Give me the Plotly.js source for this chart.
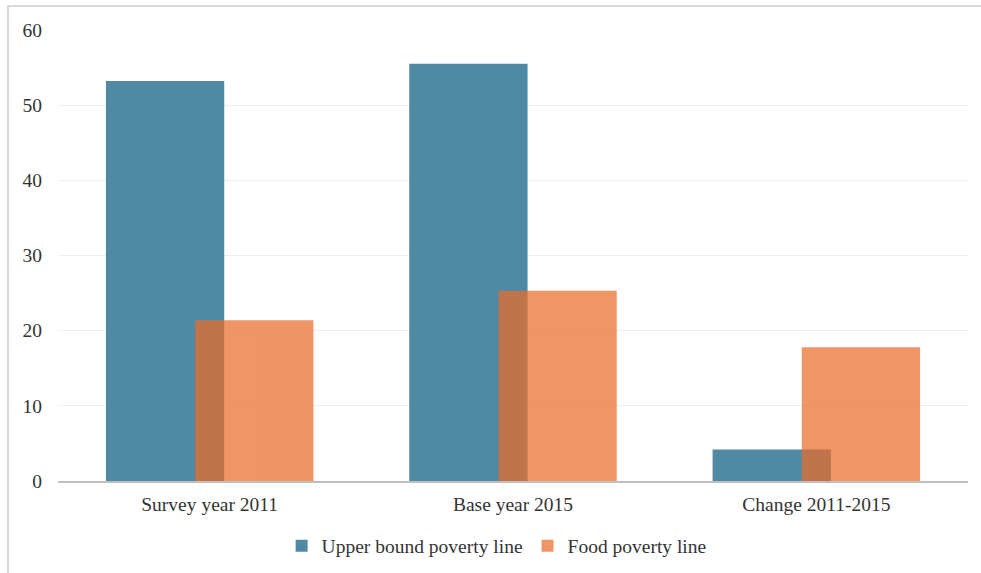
<!DOCTYPE html>
<html>
<head>
<meta charset="utf-8">
<script src="https://cdn.plot.ly/plotly-3.0.1.min.js"></script>
<style>
  html, body { margin: 0; padding: 0; background: #ffffff; overflow: hidden; }
  #chart { position: absolute; left: 0; top: 0; width: 981px; height: 573px; }
  #frame {
    position: absolute; left: 7px; top: 5px; width: 1000px; height: 600px;
    border: 2px solid #d9d9d9; pointer-events: none; box-sizing: border-box;
  }
</style>
</head>
<body>
<div id="chart"></div>
<div id="frame"></div>
<script>
// Poverty headcount under two poverty lines
const categories = ["Survey year 2011", "Base year 2015", "Change 2011-2015"];
const upperBound = [53.2, 55.5, 4.2];
const foodLine = [21.4, 25.3, 17.8];
const seriesNames = ["Upper bound poverty line", "Food poverty line"];
const yTicks = [0, 10, 20, 30, 40, 50, 60];

const font = { family: "Liberation Serif, Times New Roman, serif", size: 19.5, color: "#333333" };

const traces = [
  {
    type: "bar",
    name: seriesNames[0],
    x: categories,
    y: upperBound,
    width: 0.39,
    offset: -0.342,
    marker: { color: "rgb(79,137,164)", line: { width: 0 } },
    hoverinfo: "x+y+name"
  },
  {
    type: "bar",
    name: seriesNames[1],
    x: categories,
    y: foodLine,
    width: 0.39,
    offset: -0.048,
    opacity: 0.72,
    marker: { color: "rgb(234,108,42)", line: { width: 0 } },
    hoverinfo: "x+y+name"
  }
];

const layout = {
  width: 981,
  height: 573,
  margin: { l: 58, r: 13, t: 30, b: 92, autoexpand: false },
  paper_bgcolor: "rgba(0,0,0,0)",
  plot_bgcolor: "#ffffff",
  font: font,
  barmode: "overlay",
  showlegend: true,
  legend: {
    orientation: "h",
    x: 0.482,
    xanchor: "center",
    y: -0.101,
    yanchor: "top",
    font: font,
    itemwidth: 30,
    itemsizing: "constant",
    traceorder: "normal"
  },
  xaxis: {
    type: "category",
    showline: true,
    linecolor: "#bfbfbf",
    linewidth: 2,
    showgrid: false,
    ticks: "",
    ticklabelstandoff: 5,
    tickfont: font,
    fixedrange: true
  },
  yaxis: {
    range: [0, 60],
    tickvals: yTicks,
    showgrid: true,
    gridcolor: "#efefef",
    gridwidth: 1,
    zeroline: false,
    showline: false,
    ticks: "",
    ticklabelstandoff: 15,
    tickfont: font,
    fixedrange: true
  }
};

Plotly.newPlot("chart", traces, layout, { displayModeBar: false, staticPlot: true });
</script>
</body>
</html>
